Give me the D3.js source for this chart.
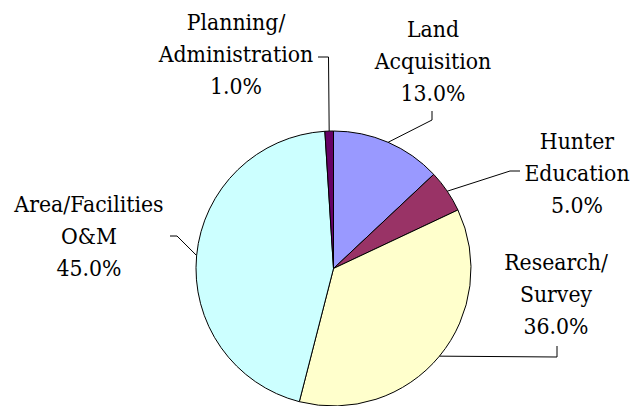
<!DOCTYPE html>
<html>
<head>
<meta charset="utf-8">
<script src="https://cdn.jsdelivr.net/npm/d3@7"></script>
<style>
  html, body { margin: 0; padding: 0; background: #fff; }
  svg { display: block; }
</style>
</head>
<body>
<div id="chart"></div>
<script>
// budget split, clockwise from 12 o'clock
var categories = ["Land Acquisition", "Hunter Education", "Research/Survey", "Area/Facilities O&M", "Planning/Administration"];
var values = [13.0, 5.0, 36.0, 45.0, 1.0];
var labelLines = [["Land", "Acquisition"], ["Hunter", "Education"], ["Research/", "Survey"], ["Area/Facilities", "O&M"], ["Planning/", "Administration"]];
var sliceColors = ["#9999FF", "#993366", "#FFFFCC", "#CCFFFF", "#660066"];

var width = 635, height = 406;
var cx = 333.5, cy = 268.5, radius = 137.5;

// where each label sits and how its leader line bends (elbow, then end)
var layout = [
  { x: 433, y: 37,  elbow: [432, 120], end: [432, 111] },
  { x: 577, y: 149, elbow: [510, 171], end: [520, 171] },
  { x: 556, y: 270, elbow: [557, 357], end: [557, 346] },
  { x: 89,  y: 212, elbow: [177, 236], end: [170, 236] },
  { x: 236, y: 30,  elbow: [328.5, 57], end: [318, 57] }
];

var data = categories.map(function(c, i) {
  return { name: c, value: values[i], lines: labelLines[i], pos: layout[i] };
});

var color = d3.scaleOrdinal().domain(categories).range(sliceColors);

var svg = d3.select("#chart").append("svg")
  .attr("width", width)
  .attr("height", height);

var pie = d3.pie()
  .sort(null)
  .value(function(d) { return d.value; });

var arcs = pie(data);

var arc = d3.arc().innerRadius(0).outerRadius(radius);
var edge = d3.arc().innerRadius(radius).outerRadius(radius);

var g = svg.append("g").attr("transform", "translate(" + cx + "," + cy + ")");

g.selectAll("path.slice")
  .data(arcs)
  .enter().append("path")
  .attr("class", "slice")
  .attr("d", arc)
  .attr("fill", function(d) { return color(d.data.name); })
  .attr("stroke", "#000")
  .attr("stroke-width", 1);

// leader lines
svg.selectAll("polyline.leader")
  .data(arcs)
  .enter().append("polyline")
  .attr("class", "leader")
  .attr("fill", "none")
  .attr("stroke", "#000")
  .attr("stroke-width", 1)
  .attr("points", function(d) {
    var c = edge.centroid(d);
    var p = d.data.pos;
    return [[cx + c[0], cy + c[1]], p.elbow, p.end].map(function(q) { return q.join(","); }).join(" ");
  });

var fmt = d3.format(".1f");
var lineH = 32;
var squeeze = 0.89; // serif face is a bit wide, narrow it to match

var labels = svg.selectAll("text.label")
  .data(arcs)
  .enter().append("text")
  .attr("class", "label")
  .attr("text-anchor", "middle")
  .attr("transform", function(d) { return "translate(" + d.data.pos.x + "," + d.data.pos.y + ") scale(" + squeeze + ",1)"; })
  .style("font-family", "'DejaVu Serif', serif")
  .style("font-size", "23px")
  .attr("fill", "#000");

labels.each(function(d) {
  var t = d3.select(this);
  var rows = d.data.lines.concat([fmt(d.data.value) + "%"]);
  rows.forEach(function(r, i) {
    t.append("tspan")
      .attr("x", 0)
      .attr("y", i * lineH)
      .text(r);
  });
});
</script>
</body>
</html>
